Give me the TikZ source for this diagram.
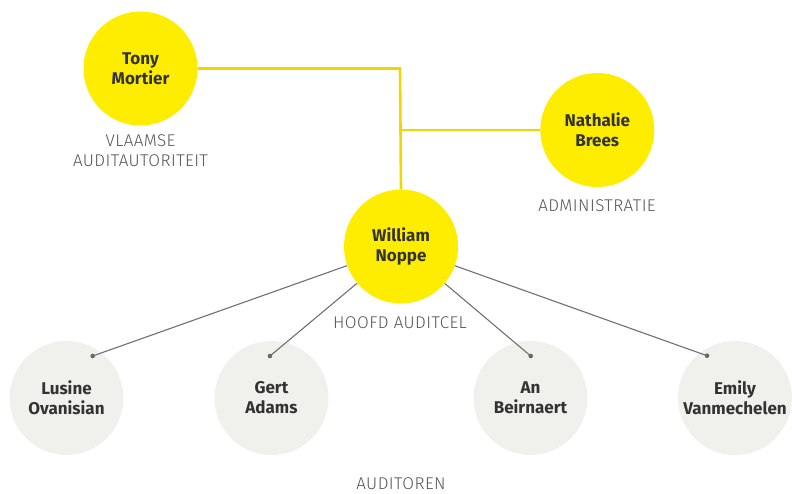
\documentclass[tikz,border=0pt]{standalone}
\usepackage{fontspec}
\setmainfont{Fira Sans}
\newfontfamily\captionfont{Fira Sans Light}[LetterSpace=2.5]
\definecolor{brandyellow}{HTML}{FFED00}
\definecolor{linkyellow}{HTML}{F2D600}
\definecolor{teamgrey}{HTML}{F0F0EC}
\definecolor{nametext}{HTML}{333333}
\definecolor{captiontext}{HTML}{555555}
\definecolor{spoke}{HTML}{707070}
\tikzset{
  person/.style={circle, minimum size=114pt, inner sep=0pt, align=center,
    text=nametext, font=\bfseries\fontsize{17}{20}\selectfont},
  lead/.style={person, fill=brandyellow},
  member/.style={person, fill=teamgrey},
  caption/.style={align=center, text=captiontext, inner sep=0pt,
    font=\captionfont\fontsize{17}{20}\selectfont},
  yellowlink/.style={draw=linkyellow, line width=2.6pt},
  spokeline/.style={draw=spoke, line width=1.1pt},
  pin/.style={circle, fill=spoke!90!black, minimum size=4.6pt, inner sep=0pt}
}
\begin{document}
\begin{tikzpicture}[x=1pt,y=-1pt]
\useasboundingbox (0,0) rectangle (792,493);

% leadership
\node[lead] (tony) at (140.5,68.5) {Tony\\Mortier};
\node[lead] (nathalie) at (597.3,130) {Nathalie\\Brees};
\node[lead] (william) at (401,246.5) {William\\Noppe};

% auditors
\node[member] (lusine) at (66.5,398) {Lusine\\Ovanisian};
\node[member] (gert) at (271.5,398) {Gert\\Adams};
\node[member] (an) at (530.5,398) {An\\Beirnaert};
\node[member] (emily) at (735,398) {Emily\\Vanmechelen};

% junctions of the yellow connectors
\coordinate (corner) at (400,68.5);
\coordinate (branch) at (400,130);

% yellow connectors
\draw[yellowlink] (tony.east) -- (corner) -- (william.north);
\draw[yellowlink] (branch) -- (nathalie.west);

% pins inside the auditor circles
\node[pin] (plusine) at (92.7,356) {};
\node[pin] (pgert) at (270,356) {};
\node[pin] (pan) at (530.7,356) {};
\node[pin] (pemily) at (707,355.7) {};

\draw[spokeline] (william) -- (plusine.center);
\draw[spokeline] (william) -- (pgert.center);
\draw[spokeline] (william) -- (pan.center);
\draw[spokeline] (william) -- (pemily.center);

% captions
\node[caption, anchor=base] (capvaa) at (140.5,146.7) {VLAAMSE};
\node[caption, anchor=base] (capvaa2) at (140.5,166.7) {AUDITAUTORITEIT};
\node[caption, anchor=base] (capadm) at (597,211.7) {ADMINISTRATIE};
\node[caption, anchor=base] (caphoofd) at (400,328.5) {HOOFD AUDITCEL};
\node[caption, anchor=base] (capaud) at (401,489) {AUDITOREN};
\end{tikzpicture}
\end{document}
